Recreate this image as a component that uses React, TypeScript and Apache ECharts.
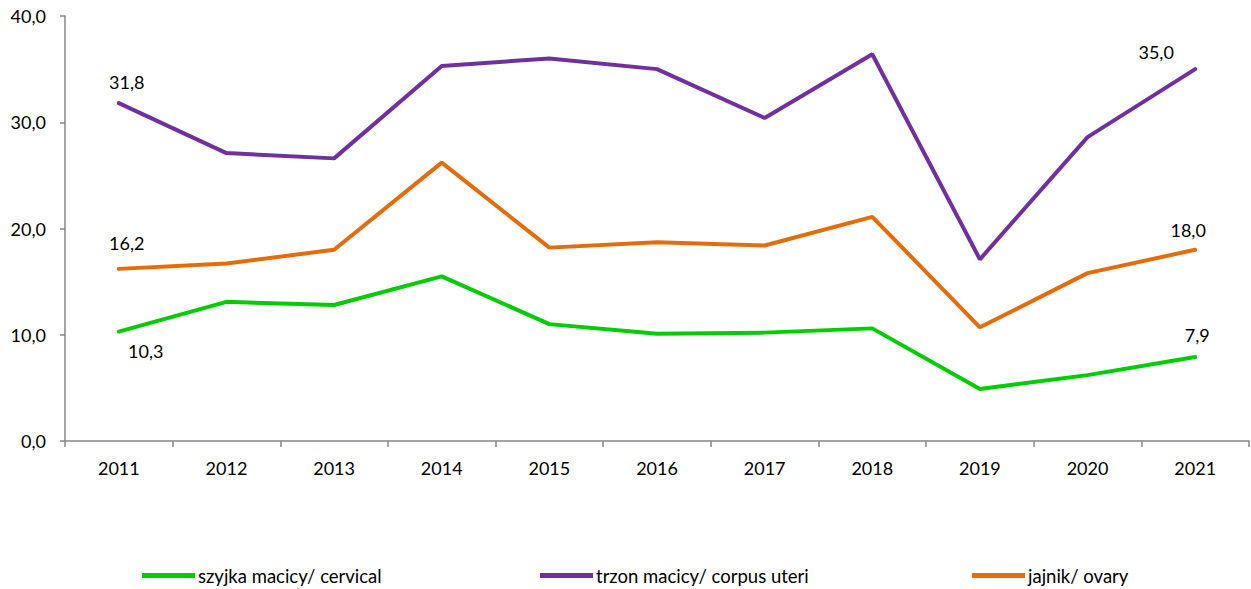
import React, { useEffect, useRef } from "react";
import * as echarts from "echarts";

const years = ["2011", "2012", "2013", "2014", "2015", "2016", "2017", "2018", "2019", "2020", "2021"];
const cervical = [10.3, 13.1, 12.8, 15.5, 11.0, 10.1, 10.2, 10.6, 4.9, 6.2, 7.9];
const corpus = [31.8, 27.1, 26.6, 35.3, 36.0, 35.0, 30.4, 36.4, 17.1, 28.6, 35.0];
const ovary = [16.2, 16.7, 18.0, 26.2, 18.2, 18.7, 18.4, 21.1, 10.7, 15.8, 18.0];
const names = ["szyjka macicy/ cervical", "trzon macicy/ corpus uteri", "jajnik/ ovary"];
const colors = ["#00cc00", "#7030a0", "#e46c0a"];

const FONT = "Lato, 'Open Sans', sans-serif";

function fmt(v: number) {
  return v.toFixed(1).replace(".", ",");
}

export default function App() {
  const ref = useRef<HTMLDivElement>(null);
  useEffect(() => {
    if (!ref.current) return;
    const chart = echarts.init(ref.current, undefined, { renderer: "svg" });
    const mk = (i: number, data: number[], firstOff: number[], lastOff: number[]) => ({
      name: names[i],
      type: "line",
      data: data.map((v, idx) => {
        const isEnd = idx === 0 || idx === data.length - 1;
        return {
          value: v,
          label: {
            show: isEnd,
            position: "inside",
            offset: idx === 0 ? firstOff : lastOff,
          },
        };
      }),
      symbol: "circle",
      symbolSize: 1,
      showSymbol: true,
      itemStyle: { color: colors[i], opacity: 0 },
      lineStyle: { width: 4, color: colors[i], cap: "round" },
      label: {
        show: false,
        formatter: (p: any) => fmt(p.value),
        color: "#000",
        fontSize: 18,
        fontFamily: FONT,
        opacity: 1,
      },
      emphasis: { disabled: true },
    });
    const legendBase = {
      top: 561,
      itemWidth: 53,
      itemHeight: 5,
      itemGap: 5,
      icon: "rect",
      textStyle: { fontSize: 18.5, fontFamily: FONT, color: "#000", padding: [0, 0, 0, -2] },
    };
    chart.setOption({
      animation: false,
      grid: { left: 65, right: 2, top: 16, bottom: 148, containLabel: false },
      legend: [
        { ...legendBase, left: 137, data: [{ name: names[0], itemStyle: { color: colors[0], opacity: 1 } }] },
        { ...legendBase, left: 535, data: [{ name: names[1], itemStyle: { color: colors[1], opacity: 1 } }] },
        { ...legendBase, left: 967, data: [{ name: names[2], itemStyle: { color: colors[2], opacity: 1 } }] },
      ],
      xAxis: {
        type: "category",
        data: years,
        boundaryGap: true,
        axisLine: { lineStyle: { color: "#868686", width: 1.5 } },
        axisTick: { show: true, length: 6, lineStyle: { color: "#868686", width: 1.5 } },
        axisLabel: { color: "#000", fontSize: 18, fontFamily: FONT, margin: 18 },
      },
      yAxis: {
        type: "value",
        min: 0,
        max: 40,
        interval: 10,
        splitLine: { show: false },
        axisLine: { show: true, lineStyle: { color: "#868686", width: 1.5 } },
        axisTick: { show: true, length: 5, lineStyle: { color: "#868686", width: 1.5 } },
        axisLabel: { color: "#000", fontSize: 18, fontFamily: FONT, margin: 19, formatter: (v: number) => fmt(v) },
      },
      series: [
        mk(0, cervical, [27, 19], [2, -22]),
        mk(1, corpus, [8, -21], [-39, -17]),
        mk(2, ovary, [8, -26], [-7, -20]),
      ],
    });
    return () => chart.dispose();
  }, []);
  return <div ref={ref} style={{ width: 1251, height: 589, position: "absolute", left: 0, top: 0 }} />;
}
